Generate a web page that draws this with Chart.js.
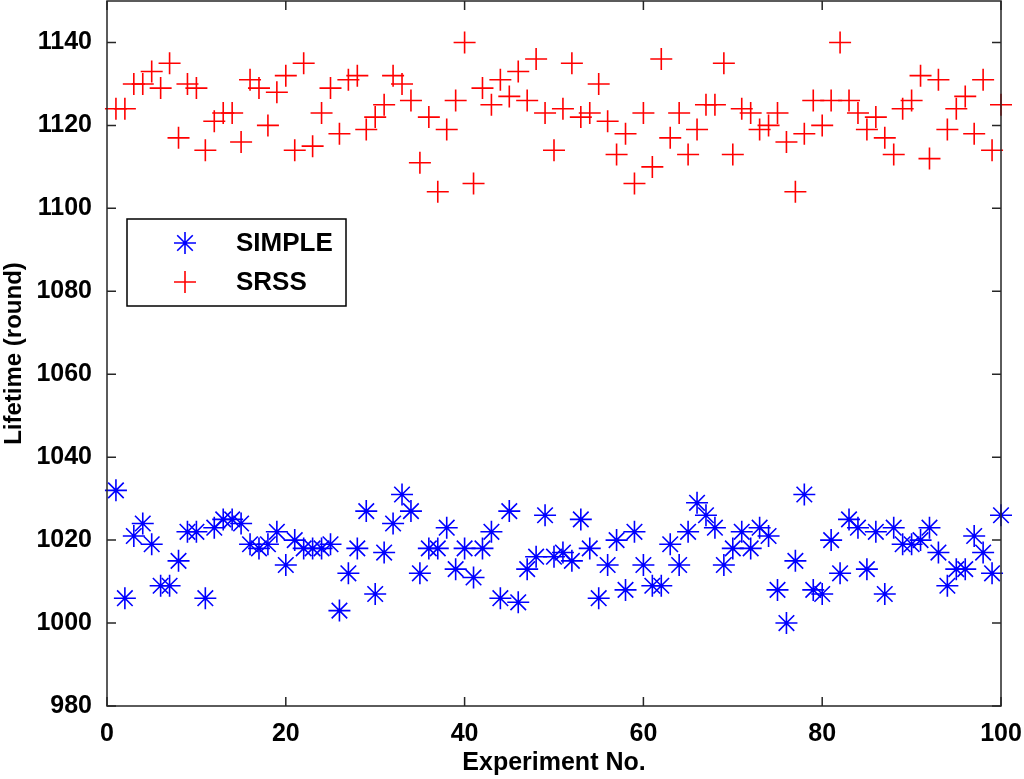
<!DOCTYPE html>
<html>
<head>
<meta charset="utf-8">
<script src="https://cdn.jsdelivr.net/npm/chart.js@4"></script>
<style>
  html, body { margin: 0; padding: 0; background: #fff; }
  #wrap { width: 1024px; height: 779px; }
</style>
</head>
<body>
<div id="wrap"><canvas id="myChart" width="1024" height="779"></canvas></div>
<script>
// experiment numbers 1..100
const experiments = [
    1, 2, 3, 4, 5, 6, 7, 8, 9, 10, 11, 12, 13, 14, 15, 16, 17, 18, 19, 20,
    21, 22, 23, 24, 25, 26, 27, 28, 29, 30, 31, 32, 33, 34, 35, 36, 37, 38, 39, 40,
    41, 42, 43, 44, 45, 46, 47, 48, 49, 50, 51, 52, 53, 54, 55, 56, 57, 58, 59, 60,
    61, 62, 63, 64, 65, 66, 67, 68, 69, 70, 71, 72, 73, 74, 75, 76, 77, 78, 79, 80,
    81, 82, 83, 84, 85, 86, 87, 88, 89, 90, 91, 92, 93, 94, 95, 96, 97, 98, 99, 100
];

const simpleLifetime = [
    1032, 1006, 1021, 1024, 1019, 1009, 1009, 1015, 1022, 1022,
    1006, 1023, 1025, 1025, 1024, 1019, 1018, 1019, 1022, 1014,
    1020, 1018, 1018, 1018, 1019, 1003, 1012, 1018, 1027, 1007,
    1017, 1024, 1031, 1027, 1012, 1018, 1018, 1023, 1013, 1018,
    1011, 1018, 1022, 1006, 1027, 1005, 1013, 1016, 1026, 1016,
    1017, 1015, 1025, 1018, 1006, 1014, 1020, 1008, 1022, 1014,
    1009, 1009, 1019, 1014, 1022, 1029, 1026, 1023, 1014, 1018,
    1022, 1018, 1023, 1021, 1008, 1000, 1015, 1031, 1008, 1007,
    1020, 1012, 1025, 1023, 1013, 1022, 1007, 1023, 1019, 1019,
    1020, 1023, 1017, 1009, 1013, 1013, 1021, 1017, 1012, 1026
];

const srssLifetime = [
    1124, 1124, 1130, 1130, 1133, 1129, 1135, 1117, 1130, 1129,
    1114, 1121, 1123, 1123, 1116, 1131, 1129, 1120, 1128, 1132,
    1114, 1135, 1115, 1123, 1129, 1118, 1131, 1132, 1119, 1122,
    1125, 1132, 1130, 1126, 1111, 1122, 1104, 1119, 1126, 1140,
    1106, 1129, 1125, 1131, 1127, 1133, 1126, 1136, 1123, 1114,
    1124, 1135, 1122, 1123, 1130, 1121, 1113, 1118, 1106, 1123,
    1110, 1136, 1117, 1123, 1113, 1119, 1125, 1125, 1135, 1113,
    1124, 1123, 1119, 1120, 1123, 1116, 1104, 1118, 1126, 1120,
    1126, 1140, 1126, 1123, 1119, 1122, 1117, 1113, 1124, 1126,
    1132, 1112, 1131, 1119, 1124, 1127, 1118, 1131, 1114, 1125
];

const xTicks = [0, 20, 40, 60, 80, 100];
const yTicks = [980, 1000, 1020, 1040, 1060, 1080, 1100, 1120, 1140];

const FONT = "'Liberation Sans', Arial, sans-serif";
const AXIS_COLOR = '#262626';

function toPoints(values) {
    return experiments.map((x, i) => ({ x: x, y: values[i] }));
}

// MATLAB-like box with inward ticks, plus legend inside the axes
const boxPlugin = {
    id: 'boxPlugin',
    afterDraw(chart) {
        const ctx = chart.ctx;
        const a = chart.chartArea;
        const xs = chart.scales.x;
        const ys = chart.scales.y;
        const tl = 9;
        ctx.save();
        ctx.strokeStyle = AXIS_COLOR;
        ctx.lineWidth = 1.5;
        ctx.strokeRect(a.left, a.top, a.right - a.left, a.bottom - a.top);
        ctx.beginPath();
        xTicks.forEach(v => {
            const px = xs.getPixelForValue(v);
            ctx.moveTo(px, a.bottom); ctx.lineTo(px, a.bottom - tl);
            ctx.moveTo(px, a.top); ctx.lineTo(px, a.top + tl);
        });
        yTicks.forEach(v => {
            const py = ys.getPixelForValue(v);
            ctx.moveTo(a.left, py); ctx.lineTo(a.left + tl, py);
            ctx.moveTo(a.right, py); ctx.lineTo(a.right - tl, py);
        });
        ctx.stroke();

        // legend
        const lx = a.left + 20, ly = 219, lw = 219, lh = 87;
        ctx.fillStyle = '#fff';
        ctx.fillRect(lx, ly, lw, lh);
        ctx.strokeStyle = '#000';
        ctx.lineWidth = 1.5;
        ctx.strokeRect(lx, ly, lw, lh);
        ctx.font = 'bold 26px ' + FONT;
        ctx.textBaseline = 'middle';
        ctx.textAlign = 'left';
        chart.data.datasets.forEach((ds, i) => {
            const cy = ly + 24 + i * 39;
            ctx.strokeStyle = ds.borderColor;
            ctx.lineWidth = ds.borderWidth;
            Chart.helpers.drawPoint(ctx, {
                pointStyle: ds.pointStyle, radius: ds.pointRadius,
                borderWidth: ds.borderWidth, rotation: 0
            }, lx + 58, cy);
            ctx.fillStyle = '#000';
            ctx.fillText(ds.label, lx + 109, cy + 1);
        });
        ctx.restore();
    }
};

const data = {
    datasets: [{
        label: 'SIMPLE',
        data: toPoints(simpleLifetime),
        pointStyle: 'star',
        pointRadius: 11,
        borderColor: '#0000ff',
        backgroundColor: '#0000ff',
        borderWidth: 1.6,
    }, {
        label: 'SRSS',
        data: toPoints(srssLifetime),
        pointStyle: 'cross',
        pointRadius: 11,
        borderColor: '#ff0000',
        backgroundColor: '#ff0000',
        borderWidth: 1.6,
    }]
};

const config = {
    type: 'scatter',
    data: data,
    options: {
        responsive: false,
        animation: false,
        clip: false,
        layout: { autoPadding: false, padding: { top: 1, right: 23, left: 0, bottom: 0 } },
        plugins: {
            legend: { display: false },
            tooltip: { enabled: false },
        },
        scales: {
            x: {
                type: 'linear',
                min: 0,
                max: 100,
                afterBuildTicks: s => { s.ticks = xTicks.map(v => ({ value: v })); },
                afterFit: s => { s.height = 73; s.paddingLeft = 0; s.paddingRight = 0; },
                grid: { display: false },
                border: { display: false },
                ticks: {
                    color: '#000',
                    padding: 5,
                    maxRotation: 0,
                    font: { family: FONT, size: 25, weight: 'bold' },
                },
                title: {
                    display: true,
                    text: 'Experiment No.',
                    color: '#000',
                    padding: { top: 0, bottom: 1 },
                    font: { family: FONT, size: 25, weight: 'bold' },
                }
            },
            y: {
                type: 'linear',
                min: 980,
                max: 1150,
                afterBuildTicks: s => { s.ticks = yTicks.map(v => ({ value: v })); },
                afterFit: s => { s.width = 107; s.paddingTop = 0; s.paddingBottom = 0; },
                grid: { display: false },
                border: { display: false },
                ticks: {
                    color: '#000',
                    padding: 7,
                    callback: v => String(v),
                    font: { family: FONT, size: 25, weight: 'bold' },
                },
                title: {
                    display: true,
                    text: 'Lifetime (round)',
                    color: '#000',
                    padding: { top: 0, bottom: 2 },
                    font: { family: FONT, size: 24, weight: 'bold' },
                }
            }
        }
    },
    plugins: [boxPlugin]
};

var ctx = document.getElementById('myChart').getContext('2d');
var myChart = new Chart(ctx, config);
</script>
</body>
</html>
